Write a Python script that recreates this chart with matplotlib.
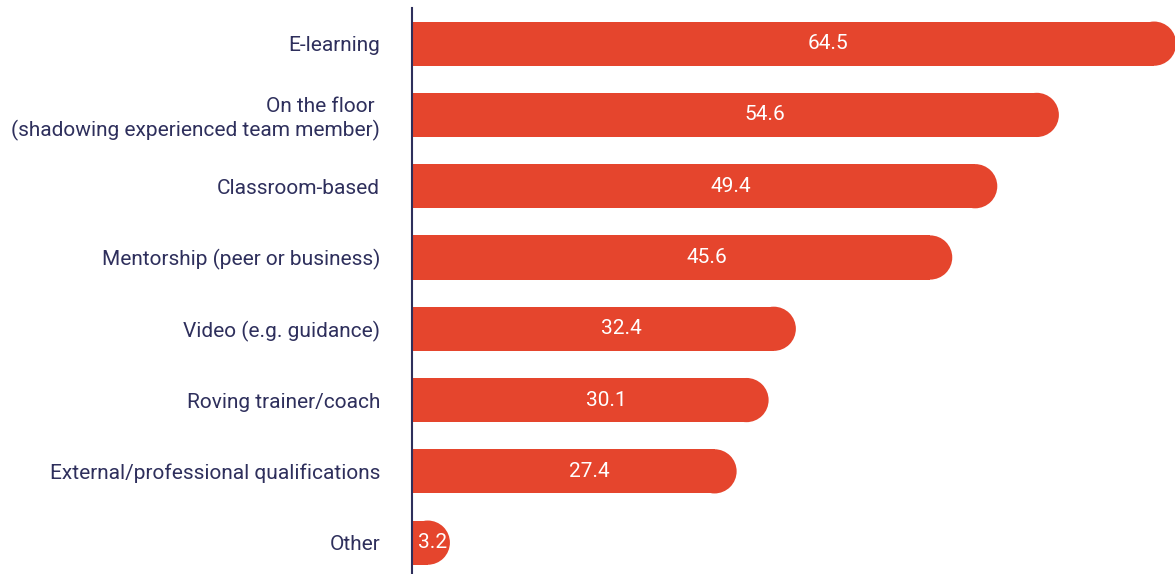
import matplotlib.pyplot as plt
from matplotlib.patches import Ellipse

# data
categories = [
    "E-learning",
    "On the floor \n(shadowing experienced team member)",
    "Classroom-based",
    "Mentorship (peer or business)",
    "Video (e.g. guidance)",
    "Roving trainer/coach",
    "External/professional qualifications",
    "Other",
]
values = [64.5, 54.6, 49.4, 45.6, 32.4, 30.1, 27.4, 3.2]

bar_color = "#E5452D"
text_color = "#2E2F5C"
plt.rcParams['font.family'] = ['Roboto', 'DejaVu Sans']

W, H, DPI = 1175, 574, 100
fig = plt.figure(figsize=(W / DPI, H / DPI), dpi=DPI)
left = 412 / W
ax = fig.add_axes([left, 0, 1 - left, (H - 8) / H])

xmax = 64.4
ax.set_xlim(0, xmax)
ax.set_ylim(7.44, -0.5)

bar_h = 0.62
# radius of the rounded end in data units (half the bar height in pixels)
ax_w_px = (1 - left) * W
ax_h_px = (H - 8) / H * H
bar_h_px = bar_h * ax_h_px / 7.94
r = (bar_h_px / 2) / (ax_w_px / xmax)

ypos = list(range(len(categories)))
for y, v in zip(ypos, values):
    ax.barh(y, v - r, height=bar_h, color=bar_color, linewidth=0)
    ax.add_patch(Ellipse((v - r, y), 2 * r, bar_h, facecolor=bar_color,
                         edgecolor='none'))
    # labels sit a little right of the bar middle in the original
    ax.text(v * 0.545, y, f"{v}", color="white", ha='center', va='center',
            fontsize=15)

ax.set_yticks(ypos)
labels = ax.set_yticklabels(categories, fontsize=15, color=text_color)
for lab in labels:
    lab.set_linespacing(1.2)
    if "\n" in lab.get_text():
        lab.set_y(lab.get_position()[1])
ax.tick_params(axis='y', length=0, pad=23)
ax.set_xticks([])

for s in ['top', 'right', 'bottom']:
    ax.spines[s].set_visible(False)
ax.spines['left'].set_color(text_color)
ax.spines['left'].set_linewidth(1.5)

fig.savefig("out.png", dpi=DPI)
